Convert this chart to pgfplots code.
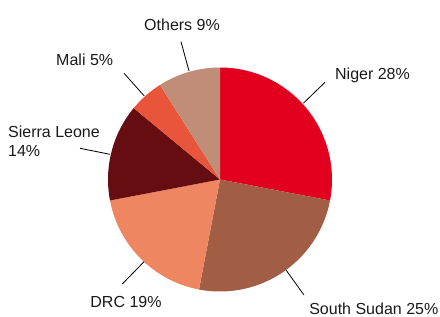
\documentclass[border=0pt]{standalone}
\usepackage{fontspec}
\setmainfont{Liberation Sans}
\usepackage{pgfplots}
\usepackage{pgfplotstable}
\pgfplotsset{compat=1.18}
\definecolor{cNiger}{HTML}{E2001E}
\definecolor{cSS}{HTML}{A25D45}
\definecolor{cDRC}{HTML}{EE8662}
\definecolor{cSL}{HTML}{660D12}
\definecolor{cMali}{HTML}{E8553A}
\definecolor{cOth}{HTML}{C08D78}
\definecolor{txt}{HTML}{1A1A1A}
\pgfplotstableread{
name value color
Niger 28 cNiger
SouthSudan 25 cSS
DRC 19 cDRC
SierraLeone 14 cSL
Mali 5 cMali
Others 9 cOth
}\piedata
\begin{document}
\begin{tikzpicture}
\begin{axis}[
  scale only axis, width=440bp, height=316bp,
  xmin=0, xmax=440, ymin=-316, ymax=0,
  hide axis, clip=false,
]
\def\cum{0}
\pgfplotsforeachungrouped \i in {0,...,5}{%
  \pgfplotstablegetelem{\i}{value}\of\piedata \let\v\pgfplotsretval
  \pgfplotstablegetelem{\i}{color}\of\piedata \let\c\pgfplotsretval
  \pgfmathsetmacro{\a}{90-3.6*\cum}%
  \pgfmathsetmacro{\b}{90-3.6*(\cum+\v)}%
  \edef\temp{\noexpand\fill[\c] (axis cs:220,-179.5) -- ++(\a:112bp) arc[start angle=\a, end angle=\b, radius=112bp] -- cycle;}%
  \temp
  \pgfmathsetmacro{\cum}{\cum+\v}%
}
\begin{scope}[every node/.style={font=\fontsize{16bp}{18.6bp}\selectfont, text=txt, inner sep=0pt}]
\draw[line width=0.8pt, black] (axis cs:181,-41.7) -- (axis cs:189,-71);
\node[anchor=base] at (axis cs:182,-30.7) {Others 9\%};
\draw[line width=0.8pt, black] (axis cs:124,-73.3) -- (axis cs:144.3,-96);
\node[anchor=base] at (axis cs:84.7,-66) {Mali 5\%};
\draw[line width=0.8pt, black] (axis cs:325,-82.3) -- (axis cs:303.3,-103.3);
\node[anchor=base] at (axis cs:372.5,-80) {Niger 28\%};
\draw[line width=0.8pt, black] (axis cs:80,-148.3) -- (axis cs:110,-154.3);
\node[anchor=base west] at (axis cs:8,-137.3) {Sierra Leone};
\node[anchor=base west] at (axis cs:8,-156) {14\%};
\draw[line width=0.8pt, black] (axis cs:122.3,-284) -- (axis cs:144,-261.7);
\node[anchor=base] at (axis cs:126,-307) {DRC 19\%};
\draw[line width=0.8pt, black] (axis cs:304,-295) -- (axis cs:286,-270);
\node[anchor=base] at (axis cs:373.8,-314) {South Sudan 25\%};
\end{scope}
\coordinate (bl) at (axis cs:0,-316);
\coordinate (tr) at (axis cs:440,0);
\end{axis}
\pgfresetboundingbox
\useasboundingbox (bl) rectangle (tr);
\end{tikzpicture}
\end{document}
